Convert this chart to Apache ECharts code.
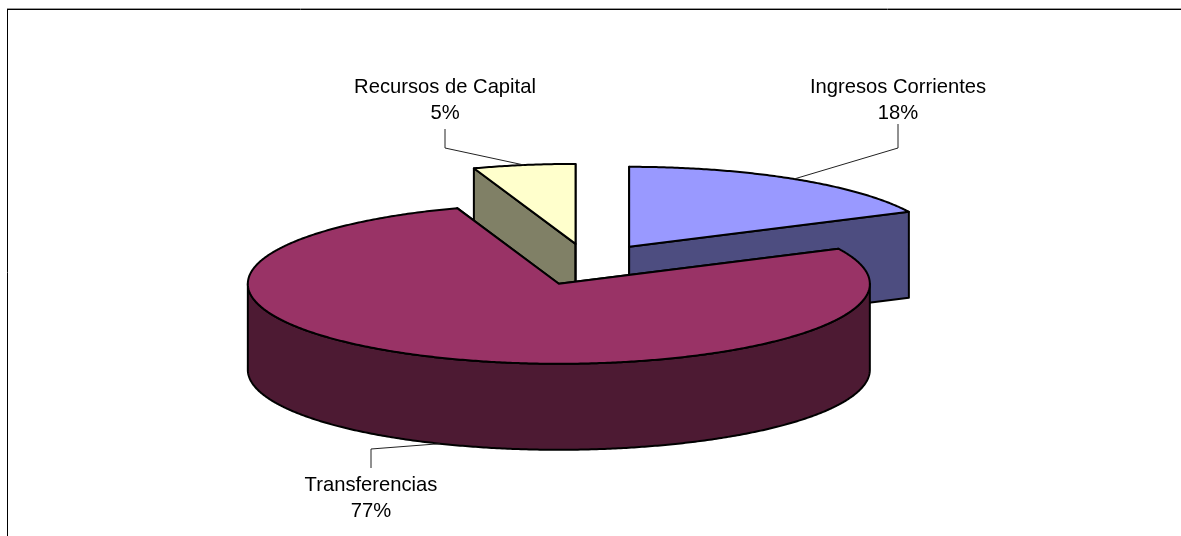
<!DOCTYPE html>
<html>
<head>
<meta charset="utf-8">
<title>Ingresos</title>
<style>
html,body{margin:0;padding:0;background:#fff}
#main{width:1181px;height:536px}
</style>
<script src="https://cdn.jsdelivr.net/npm/echarts@6/dist/echarts.min.js"></script>
</head>
<body>
<div id="main"></div>
<script>
var categories=['Ingresos Corrientes','Transferencias','Recursos de Capital']
var values=[17.8,76.9,5.3]
var topColors=['#9999FF','#993366','#FFFFCC']
var sideColors=['#4D4D80','#4D1A33','#808066']
// where each label sits, and the elbow of its leader line
var labelPos=[[898,100],[371,498],[445,100]]
var elbowPos=[[898,148],[371,449],[445,148]]
var stemEnd=[[898,124],[371,468],[445,129]]

// the 3d pie, in pixels
var cx=588.3,cy=264.5
var rx=311,ry=80,depth=86
var explode=77,explodeTilt=0.271
var rad=Math.PI/180
var total=values.reduce(function(a,b){return a+b},0)

// angles run clockwise from north
var slices=[]
var acc=0
for(var i=0;i<values.length;i++){
    var start=acc/total*360
    acc+=values[i]
    var end=acc/total*360
    var mid=(start+end)/2
    slices.push({
        index:i,start:start,end:end,mid:mid,
        ox:cx+explode*Math.sin(mid*rad),
        oy:cy-explode*explodeTilt*Math.cos(mid*rad)
    })
}
// back slices are painted first
var order=slices.slice().sort(function(a,b){return Math.cos(b.mid*rad)-Math.cos(a.mid*rad)})

function rim(s,a,down){
    return [s.ox+rx*Math.sin(a*rad),s.oy-ry*Math.cos(a*rad)+(down?depth:0)]
}
function arc(s,a,b,down){
    var pts=[]
    var n=Math.max(2,Math.ceil((b-a)*2))
    for(var k=0;k<=n;k++) pts.push(rim(s,a+(b-a)*k/n,down))
    return pts
}
function poly(points,fill,z){
    return {type:'polygon',z2:z,shape:{points:points},
        style:{fill:fill,stroke:'#000',lineWidth:2,lineJoin:'round'}}
}
function cutFace(s,a,fill,z){
    var p=rim(s,a,false),q=rim(s,a,true)
    return poly([[s.ox,s.oy],p,q,[s.ox,s.oy+depth]],fill,z)
}

function renderSlice(params,api){
    var s=order[params.dataIndex]
    var i=s.index
    var side=sideColors[i]
    var kids=[]
    kids.push(cutFace(s,s.start,side,1))
    kids.push(cutFace(s,s.end,side,1))
    var a=Math.max(s.start,90),b=Math.min(s.end,270)
    if(b>a){
        kids.push(poly(arc(s,a,b,false).concat(arc(s,a,b,true).reverse()),side,2))
    }
    kids.push(poly([[s.ox,s.oy]].concat(arc(s,s.start,s.end,false)),topColors[i],3))

    // leader line from the rim to the label
    var anchor=rim(s,s.mid,Math.cos(s.mid*rad)<0)
    kids.push({type:'polyline',z2:4,shape:{points:[anchor,elbowPos[i],stemEnd[i]]},
        style:{fill:null,stroke:'#222',lineWidth:1}})
    kids.push({type:'text',z2:5,x:labelPos[i][0],y:labelPos[i][1],
        style:{
            text:categories[i]+'\n'+Math.round(api.value(0)/total*100)+'%',
            fill:'#000',
            font:'20.2px "Liberation Sans", Arial, sans-serif',
            lineHeight:26,
            align:'center',verticalAlign:'middle'
        }})
    return {type:'group',children:kids}
}

var myChart=echarts.init(document.getElementById('main'))
var option={
    animation:false,
    backgroundColor:'#fff',
    graphic:[
        {type:'line',shape:{x1:7,y1:8.5,x2:1181,y2:8.5},style:{stroke:'#999',lineWidth:1}},
        {type:'line',shape:{x1:7,y1:9.5,x2:1181,y2:9.5},style:{stroke:'#000',lineWidth:1}},
        {type:'line',shape:{x1:7.5,y1:9,x2:7.5,y2:536},style:{stroke:'#000',lineWidth:1}}
    ],
    series:[{
        type:'custom',
        coordinateSystem:'none',
        silent:true,
        renderItem:renderSlice,
        data:order.map(function(s){return {name:categories[s.index],value:[values[s.index]]}})
    }]
}
myChart.setOption(option)
</script>
</body>
</html>
